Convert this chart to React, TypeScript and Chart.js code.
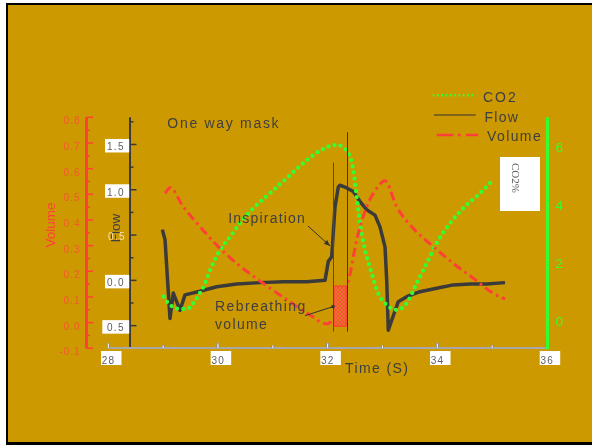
import React, { useEffect, useRef } from 'react';
import Chart from 'chart.js/auto';

// ---- Data ----
const flowTime = [28.985, 29.034, 29.125, 29.185, 29.307, 29.399, 29.672, 29.977, 30.341, 30.766, 31.191, 31.618, 31.952, 32.012, 32.074, 32.134, 32.194, 32.225, 32.347, 32.468, 32.590, 32.712, 32.863, 32.954, 33.046, 33.077, 33.106, 33.168, 33.288, 33.441, 33.684, 33.988, 34.291, 34.596, 34.900, 35.234];
const flowValues = [0.56, 0.45, -0.42, -0.14, -0.33, -0.16, -0.12, -0.07, -0.04, -0.025, -0.015, -0.015, 0.0, 0.21, 0.26, 0.81, 1.03, 1.05, 1.02, 0.98, 0.87, 0.78, 0.72, 0.59, 0.37, 0.0, -0.55, -0.44, -0.235, -0.18, -0.125, -0.087, -0.05, -0.04, -0.04, -0.025];

const volumeTime = [29.034, 29.125, 29.368, 29.672, 29.977, 30.341, 30.826, 31.313, 31.678, 31.983, 32.376, 32.529, 32.712, 32.894, 33.046, 33.259, 33.562, 33.926, 34.291, 34.656, 35.020, 35.234];
const volumeValues = [0.504, 0.526, 0.451, 0.374, 0.302, 0.231, 0.153, 0.081, 0.030, -0.005, 0.159, 0.322, 0.451, 0.523, 0.553, 0.451, 0.367, 0.296, 0.231, 0.173, 0.114, 0.091];

const co2Time = [29.008, 29.094, 29.247, 29.430, 29.612, 29.763, 29.885, 30.037, 30.219, 30.402, 30.644, 30.949, 31.253, 31.556, 31.860, 32.134, 32.285, 32.407, 32.468, 32.529, 32.590, 32.681, 32.803, 32.923, 33.077, 33.259, 33.441, 33.624, 33.806, 33.988, 34.231, 34.473, 34.778, 35.020];
const co2Values = [0.79, 0.56, 0.38, 0.36, 0.73, 1.25, 1.83, 2.40, 2.86, 3.33, 3.85, 4.37, 4.89, 5.41, 5.84, 6.04, 5.96, 5.63, 5.17, 4.25, 3.33, 2.40, 1.60, 0.90, 0.50, 0.33, 0.56, 1.25, 1.94, 2.64, 3.33, 3.85, 4.37, 4.83];

// ---- Axes / ticks ----
const timeTicks = [28, 30, 32, 34, 36];
const timeMinorTicks = [29, 31, 33, 35];
const volumeTicks = [-0.1, 0.0, 0.1, 0.2, 0.3, 0.4, 0.5, 0.6, 0.7, 0.8];
const flowTicks = [-0.5, 0.0, 0.5, 1.0, 1.5];
const co2Ticks = [0, 2, 4, 6];

// ---- Annotation anchors (data units) ----
const rebreathTime = [32.103, 32.347];
const rebreathVolume = [-0.016, 0.144];
const markerTime = [32.103, 32.347];
const markerFlowTop = [1.30, 1.635];
const markerFlowBottom = -0.566;

const FONT = '"Liberation Sans", Arial, sans-serif';
const ORANGE = '#CC9900';
const TEXT = '#3f3f3f';
const RED = '#ff4038';
const GREEN = '#33ff33';

function txt(ctx: CanvasRenderingContext2D, s: string, x: number, y: number, size: number, color: string, align: CanvasTextAlign = 'left', spacing = 0, rot = 0, family = FONT) {
  ctx.save();
  ctx.translate(x, y);
  if (rot) ctx.rotate(rot);
  ctx.font = `${size}px ${family}`;
  ctx.fillStyle = color;
  ctx.textAlign = align;
  ctx.textBaseline = 'middle';
  (ctx as any).letterSpacing = spacing + 'px';
  ctx.fillText(s, 0, 0);
  ctx.restore();
}

function seg(ctx: CanvasRenderingContext2D, x1: number, y1: number, x2: number, y2: number) {
  ctx.beginPath();
  ctx.moveTo(x1, y1);
  ctx.lineTo(x2, y2);
  ctx.stroke();
}

const bgPlugin = {
  id: 'bg',
  beforeDraw(chart: any) {
    const ctx = chart.ctx as CanvasRenderingContext2D;
    const w = chart.width, h = chart.height;
    ctx.save();
    ctx.fillStyle = '#ffffff';
    ctx.fillRect(0, 0, w, h);
    ctx.fillStyle = '#000000';
    ctx.fillRect(6, 3, w, h);
    ctx.fillStyle = ORANGE;
    ctx.fillRect(8, 5, w, h - 8);
    ctx.restore();
  },
};

const axesPlugin = {
  id: 'axes',
  afterDraw(chart: any) {
    const ctx = chart.ctx as CanvasRenderingContext2D;
    const a = chart.chartArea;
    const xs = chart.scales.x, yf = chart.scales.yFlow, yv = chart.scales.yVol, yc = chart.scales.yCo2;
    ctx.save();

    // Volume axis (red)
    const vx = a.left - 21.8;
    ctx.strokeStyle = RED;
    ctx.lineWidth = 3;
    seg(ctx, vx, yv.getPixelForValue(volumeTicks[volumeTicks.length - 1]), vx, yv.getPixelForValue(volumeTicks[0]));
    ctx.lineWidth = 1.5;
    volumeTicks.forEach((v, i) => {
      const y = yv.getPixelForValue(v);
      seg(ctx, vx, y, vx + 6.5, y);
      if (i < volumeTicks.length - 1) {
        const ym = yv.getPixelForValue((v + volumeTicks[i + 1]) / 2);
        seg(ctx, vx, ym, vx + 3.5, ym);
      }
      txt(ctx, v.toFixed(1), vx - 6, y + 4.3, 10, '#f4582e', 'right', 1);
    });
    txt(ctx, 'Volume', 51, 225, 13.5, RED, 'center', 0, -Math.PI / 2);

    // Flow axis (dark)
    const fx = a.left + 21.7;
    ctx.strokeStyle = '#3a3a3a';
    ctx.lineWidth = 2;
    seg(ctx, fx, a.top, fx, a.bottom);
    ctx.lineWidth = 1.5;
    flowTicks.forEach((v) => {
      const y = yf.getPixelForValue(v);
      seg(ctx, fx, y, fx + 6.5, y);
      const ym = yf.getPixelForValue(v + 0.25);
      if (ym >= a.top - 0.5) seg(ctx, fx, ym, fx + 3.5, ym);
    });
    txt(ctx, 'Flow', 116, 228, 13.5, TEXT, 'center', 0, -Math.PI / 2);
    flowTicks.forEach((v) => {
      const y = yf.getPixelForValue(v);
      const label = Math.abs(v).toFixed(1);
      if (v === 0.5) {
        txt(ctx, label, fx - 22, y + 2.5, 10, 'rgba(255,240,200,0.85)', 'left', 1.3);
        return;
      }
      const left = v < 0 ? fx - 27.7 : fx - 25;
      ctx.fillStyle = '#ffffff';
      ctx.fillRect(left, y - 5.5, fx - 0.8 - left, 13.5);
      txt(ctx, label, fx - 23, y + 3, 10, '#5c5c5c', 'left', 1.3);
    });

    // Time axis
    const xb = a.bottom - 0.3;
    ctx.strokeStyle = '#a8a8a8';
    ctx.lineWidth = 2;
    seg(ctx, a.left, xb, a.right, xb);
    const tickMark = (t: number, h: number) => {
      const x = xs.getPixelForValue(t);
      ctx.fillStyle = '#8c8c8c';
      ctx.fillRect(x - 1.5, xb - h, 3, h);
      ctx.fillStyle = '#ffffff';
      ctx.fillRect(x - 0.5, xb - h + 0.5, 1, h - 0.5);
    };
    timeTicks.forEach((t) => tickMark(t, 5));
    timeMinorTicks.forEach((t) => tickMark(t, 3));
    timeTicks.forEach((t) => {
      const x = xs.getPixelForValue(t);
      ctx.fillStyle = '#ffffff';
      ctx.fillRect(x - 7.3, 351, 20.5, 14);
      txt(ctx, String(t), x - 6.6, 361, 10, '#5c5c5c', 'left', 1.2);
    });
    txt(ctx, 'Time (S)', 345, 369, 14, TEXT, 'left', 1.4);

    // CO2 axis (green)
    const gx = a.right + 0.5;
    ctx.strokeStyle = GREEN;
    ctx.lineWidth = 3;
    seg(ctx, gx, a.top, gx, a.bottom + 1);
    co2Ticks.forEach((c) => {
      txt(ctx, String(c), gx + 8, yc.getPixelForValue(c) + 2.5, 13.5, GREEN, 'left', 0);
    });
    ctx.fillStyle = '#ffffff';
    ctx.fillRect(a.right - 47, 157, 40, 54);
    txt(ctx, 'CO2%', a.right - 32, 163, 11, '#555555', 'left', 0, Math.PI / 2, '"Liberation Serif", "Times New Roman", serif');

    ctx.restore();
  },
};

let hatchPattern: CanvasPattern | null = null;
function getHatch(ctx: CanvasRenderingContext2D) {
  if (hatchPattern) return hatchPattern;
  const c = document.createElement('canvas');
  c.width = 4; c.height = 4;
  const g = c.getContext('2d')!;
  g.fillStyle = '#ff4a3a';
  g.fillRect(0, 0, 4, 4);
  g.strokeStyle = 'rgba(214,140,30,0.95)';
  g.lineWidth = 0.8;
  g.beginPath();
  g.moveTo(0, 0); g.lineTo(4, 4);
  g.moveTo(4, 0); g.lineTo(0, 4);
  g.stroke();
  hatchPattern = ctx.createPattern(c, 'repeat');
  return hatchPattern;
}

const annotPlugin = {
  id: 'annot',
  afterDatasetsDraw(chart: any) {
    const ctx = chart.ctx as CanvasRenderingContext2D;
    const xs = chart.scales.x, yf = chart.scales.yFlow, yv = chart.scales.yVol;
    const X = (t: number) => xs.getPixelForValue(t);
    const F = (f: number) => yf.getPixelForValue(f);
    ctx.save();

    // Rebreathing volume (hatched)
    const hx1 = X(rebreathTime[0]), hx2 = X(rebreathTime[1]);
    const hy1 = yv.getPixelForValue(rebreathVolume[1]), hy2 = yv.getPixelForValue(rebreathVolume[0]);
    ctx.fillStyle = getHatch(ctx) as any;
    ctx.fillRect(hx1, hy1, hx2 - hx1, hy2 - hy1);
    ctx.strokeStyle = '#ff3a30';
    ctx.lineWidth = 1;
    ctx.strokeRect(hx1 + 0.5, hy1 + 0.5, hx2 - hx1 - 1, hy2 - hy1 - 1);

    // Vertical markers
    ctx.lineWidth = 1;
    ctx.strokeStyle = '#5e4c14';
    seg(ctx, Math.round(X(markerTime[0])) + 0.5, F(markerFlowTop[0]), Math.round(X(markerTime[0])) + 0.5, F(markerFlowBottom));
    ctx.strokeStyle = '#343844';
    seg(ctx, Math.round(X(markerTime[1])) + 0.5, F(markerFlowTop[1]), Math.round(X(markerTime[1])) + 0.5, F(markerFlowBottom));

    // Texts
    txt(ctx, 'One way mask', X(29.076), F(1.73), 14, TEXT, 'left', 1.7);
    txt(ctx, 'Inspiration', X(30.188), F(0.68), 14, TEXT, 'left', 1.2);
    txt(ctx, 'Rebreathing', X(29.946), F(-0.30), 14, TEXT, 'left', 1.4);
    txt(ctx, 'volume', X(29.946), F(-0.495), 14, TEXT, 'left', 1.35);

    // Inspiration arrow
    const ax1 = X(31.641), ay1 = F(0.60), ax2 = X(32.043), ay2 = F(0.38);
    ctx.strokeStyle = '#333333';
    ctx.fillStyle = '#333333';
    ctx.lineWidth = 1;
    seg(ctx, ax1, ay1, ax2, ay2);
    const ang = Math.atan2(ay2 - ay1, ax2 - ax1);
    ctx.beginPath();
    ctx.moveTo(ax2, ay2);
    ctx.lineTo(ax2 - 6 * Math.cos(ang) + 2.5 * Math.sin(ang), ay2 - 6 * Math.sin(ang) - 2.5 * Math.cos(ang));
    ctx.lineTo(ax2 - 6 * Math.cos(ang) - 2.5 * Math.sin(ang), ay2 - 6 * Math.sin(ang) + 2.5 * Math.cos(ang));
    ctx.closePath();
    ctx.fill();

    // Rebreathing pointer
    const rx1 = X(31.587), ry1 = F(-0.39), rx2 = X(32.098), ry2 = F(-0.29);
    seg(ctx, rx1, ry1, rx2, ry2);
    ctx.fillRect(rx2 - 1.5, ry2 - 1.5, 3, 3);

    // Legend
    ctx.lineCap = 'butt';
    ctx.strokeStyle = GREEN;
    ctx.lineWidth = 2.5;
    ctx.setLineDash([1.7, 2.6]);
    seg(ctx, 432.7, 95.3, 473.5, 95.3);
    ctx.setLineDash([]);
    ctx.strokeStyle = '#333333';
    ctx.lineWidth = 1.2;
    seg(ctx, 434, 115, 475.7, 115);
    ctx.strokeStyle = RED;
    ctx.lineWidth = 2.5;
    ctx.setLineDash([16.7, 4.3, 3, 5.3]);
    seg(ctx, 436.7, 135, 478.3, 135);
    ctx.setLineDash([]);
    txt(ctx, 'CO2', 483, 98.3, 14, TEXT, 'left', 2);
    txt(ctx, 'Flow', 484.5, 118.3, 14, TEXT, 'left', 1.3);
    txt(ctx, 'Volume', 487, 136.7, 14, TEXT, 'left', 1.4);

    ctx.restore();
  },
};

export default function App() {
  const ref = useRef<HTMLCanvasElement>(null);
  useEffect(() => {
    const chart = new Chart(ref.current!, {
      type: 'line',
      data: {
        datasets: [
          {
            label: 'Volume',
            data: volumeTime.map((t, i) => ({ x: t, y: volumeValues[i] })),
            yAxisID: 'yVol',
            borderColor: RED,
            borderWidth: 3,
            borderDash: [9, 4, 2.5, 4],
            pointRadius: 0,
            cubicInterpolationMode: 'monotone',
            order: 1,
          },
          {
            label: 'CO2',
            data: co2Time.map((t, i) => ({ x: t, y: co2Values[i] })),
            yAxisID: 'yCo2',
            borderColor: GREEN,
            borderWidth: 4.3,
            borderDash: [0, 6.2],
            borderCapStyle: 'round',
            pointRadius: 0,
            cubicInterpolationMode: 'monotone',
            order: 2,
          },
          {
            label: 'Flow',
            data: flowTime.map((t, i) => ({ x: t, y: flowValues[i] })),
            yAxisID: 'yFlow',
            borderColor: '#3a3a3a',
            borderWidth: 3.5,
            pointRadius: 0,
            tension: 0,
            borderJoinStyle: 'round',
            order: 3,
          },
        ] as any,
      },
      options: {
        animation: false,
        responsive: false,
        maintainAspectRatio: false,
        layout: { padding: { left: 108.3, right: 45, top: 117.3, bottom: 96.7 } },
        plugins: { legend: { display: false }, tooltip: { enabled: false } },
        scales: {
          x: { type: 'linear', min: 28, max: 36, display: false },
          yFlow: { type: 'linear', min: -0.75, max: 1.8, display: false },
          yVol: { type: 'linear', min: -0.1, max: 0.8, display: false },
          yCo2: { type: 'linear', min: -1, max: 7, display: false },
        },
      },
      plugins: [bgPlugin, axesPlugin, annotPlugin],
    } as any);
    return () => chart.destroy();
  }, []);
  return (
    <div style={{ position: 'fixed', left: 0, top: 0, width: 592, height: 445 }}>
      <canvas ref={ref} width={592} height={445} style={{ display: 'block', width: 592, height: 445 }} />
    </div>
  );
}
